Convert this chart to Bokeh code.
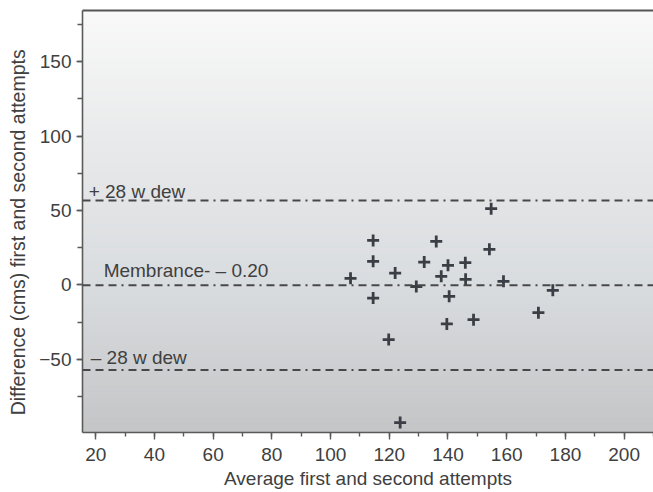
import numpy as np
from bokeh.plotting import figure
from bokeh.models import Range1d, Span, LinearAxis, FixedTicker, SingleIntervalTicker
from bokeh.core.properties import value
from bokeh.embed import file_html
from bokeh.resources import INLINE

# ---- data ----
avg = [106.8, 114.5, 114.5, 114.5, 119.8, 122.0, 123.7, 129.2, 131.9, 136.0, 137.7,
       140.0, 140.4, 139.6, 145.9, 146.0, 148.7, 154.7, 154.1, 158.9, 170.8, 175.7]
diff = [4.4, 29.9, 15.8, -8.9, -36.8, 7.9, -92.6, -1.1, 15.3, 29.2, 5.7,
        13.1, -7.7, -26.3, 14.9, 3.7, -23.4, 51.2, 23.9, 2.4, -18.7, -3.7]
mean_diff = -0.2
upper_loa = 56.8
lower_loa = -57.2
line_values = [upper_loa, mean_diff, lower_loa]
line_labels = ["+ 28 w dew", "Membrance- \u2013 0.20", "\u2013 28 w dew"]
x_title = "Average first and second attempts"
y_title = "Difference (cms) first and second attempts"

# ---- layout / style ----
X0, X1 = 15.5, 210.0
Y0, Y1 = -99.3, 184.5
FONT = "Liberation Sans"
TXT = "#404040"
AX = "#5a5a5a"

p = figure(width=653, height=492, output_backend="svg", toolbar_location=None,
           x_range=Range1d(X0, X1), y_range=Range1d(Y0, Y1),
           min_border_left=82, min_border_right=0, min_border_top=10, min_border_bottom=60)
p.grid.visible = False
p.outline_line_color = None
p.background_fill_color = "#dcdfe2"
p.border_fill_color = "white"

# vertical gradient background
stops_f = [0.0, 0.35, 0.7, 1.0]
stops_c = [(196, 197, 199), (217, 220, 223), (233, 234, 235), (249, 249, 249)]
n = 160
edges = np.linspace(Y0, Y1, n + 1)
mids = (edges[:-1] + edges[1:]) / 2
fr = (mids - Y0) / (Y1 - Y0)
cols = []
for f in fr:
    r = np.interp(f, stops_f, [c[0] for c in stops_c])
    g = np.interp(f, stops_f, [c[1] for c in stops_c])
    b = np.interp(f, stops_f, [c[2] for c in stops_c])
    cols.append("#%02x%02x%02x" % (int(round(r)), int(round(g)), int(round(b))))
step = (Y1 - Y0) / n
p.quad(left=X0, right=X1, bottom=edges[:-1], top=edges[1:] + step * 0.6,
       fill_color=cols, line_color=None)

# axes
for ax in (p.xaxis[0], p.yaxis[0]):
    ax.axis_line_color = AX
    ax.axis_line_width = 1.6
    ax.major_tick_line_color = AX
    ax.minor_tick_line_color = AX
    ax.major_tick_line_width = 1.4
    ax.minor_tick_line_width = 1.4
    ax.major_tick_in = 0
    ax.minor_tick_in = 0
    ax.major_label_text_font = FONT
    ax.major_label_text_font_size = "19px"
    ax.major_label_text_color = TXT
    ax.axis_label_text_font = FONT
    ax.axis_label_text_font_size = "19px"
    ax.axis_label_text_font_style = "normal"
    ax.axis_label_text_color = TXT

p.xaxis.ticker = SingleIntervalTicker(interval=20, num_minor_ticks=2)
p.yaxis.ticker = SingleIntervalTicker(interval=50, num_minor_ticks=2)
p.xaxis.major_tick_out = 7
p.xaxis.minor_tick_out = 4
p.yaxis.major_tick_out = 6
p.yaxis.minor_tick_out = 5
p.xaxis.major_label_standoff = 8
p.yaxis.major_label_standoff = 5
p.xaxis.axis_label = x_title
p.yaxis.axis_label = y_title + "\u00a0" * 4
p.yaxis.axis_label_text_font_size = "19.5px"
p.xaxis.axis_label_standoff = 4
p.yaxis.axis_label_standoff = 7

top_axis = LinearAxis(ticker=FixedTicker(ticks=[]), axis_line_color="#555555", axis_line_width=2,
                      major_tick_line_color=None, minor_tick_line_color=None,
                      major_tick_out=0, minor_tick_out=0, major_label_standoff=0,
                      major_label_text_font_size="0px")
p.add_layout(top_axis, "above")

# limit lines
for v in line_values:
    p.add_layout(Span(location=v, dimension="width", line_color="#484848",
                      line_width=2, line_dash="8 5 8 5 8 5 2 5"))

# labels for the lines
lab_x = [17.6, 22.7, 18.3]
lab_dy = [6.2, 9.9, 8.1]
p.text(x=lab_x, y=[v + d for v, d in zip(line_values, lab_dy)], text=line_labels,
       text_font=value(FONT), text_font_size="19px", text_color=TXT,
       text_align="left", text_baseline="middle")

# points
p.scatter(avg, diff, marker="cross", size=12, line_width=2.8, line_color="#3b3f45")

open("out.html", "w").write(file_html(p, INLINE))
